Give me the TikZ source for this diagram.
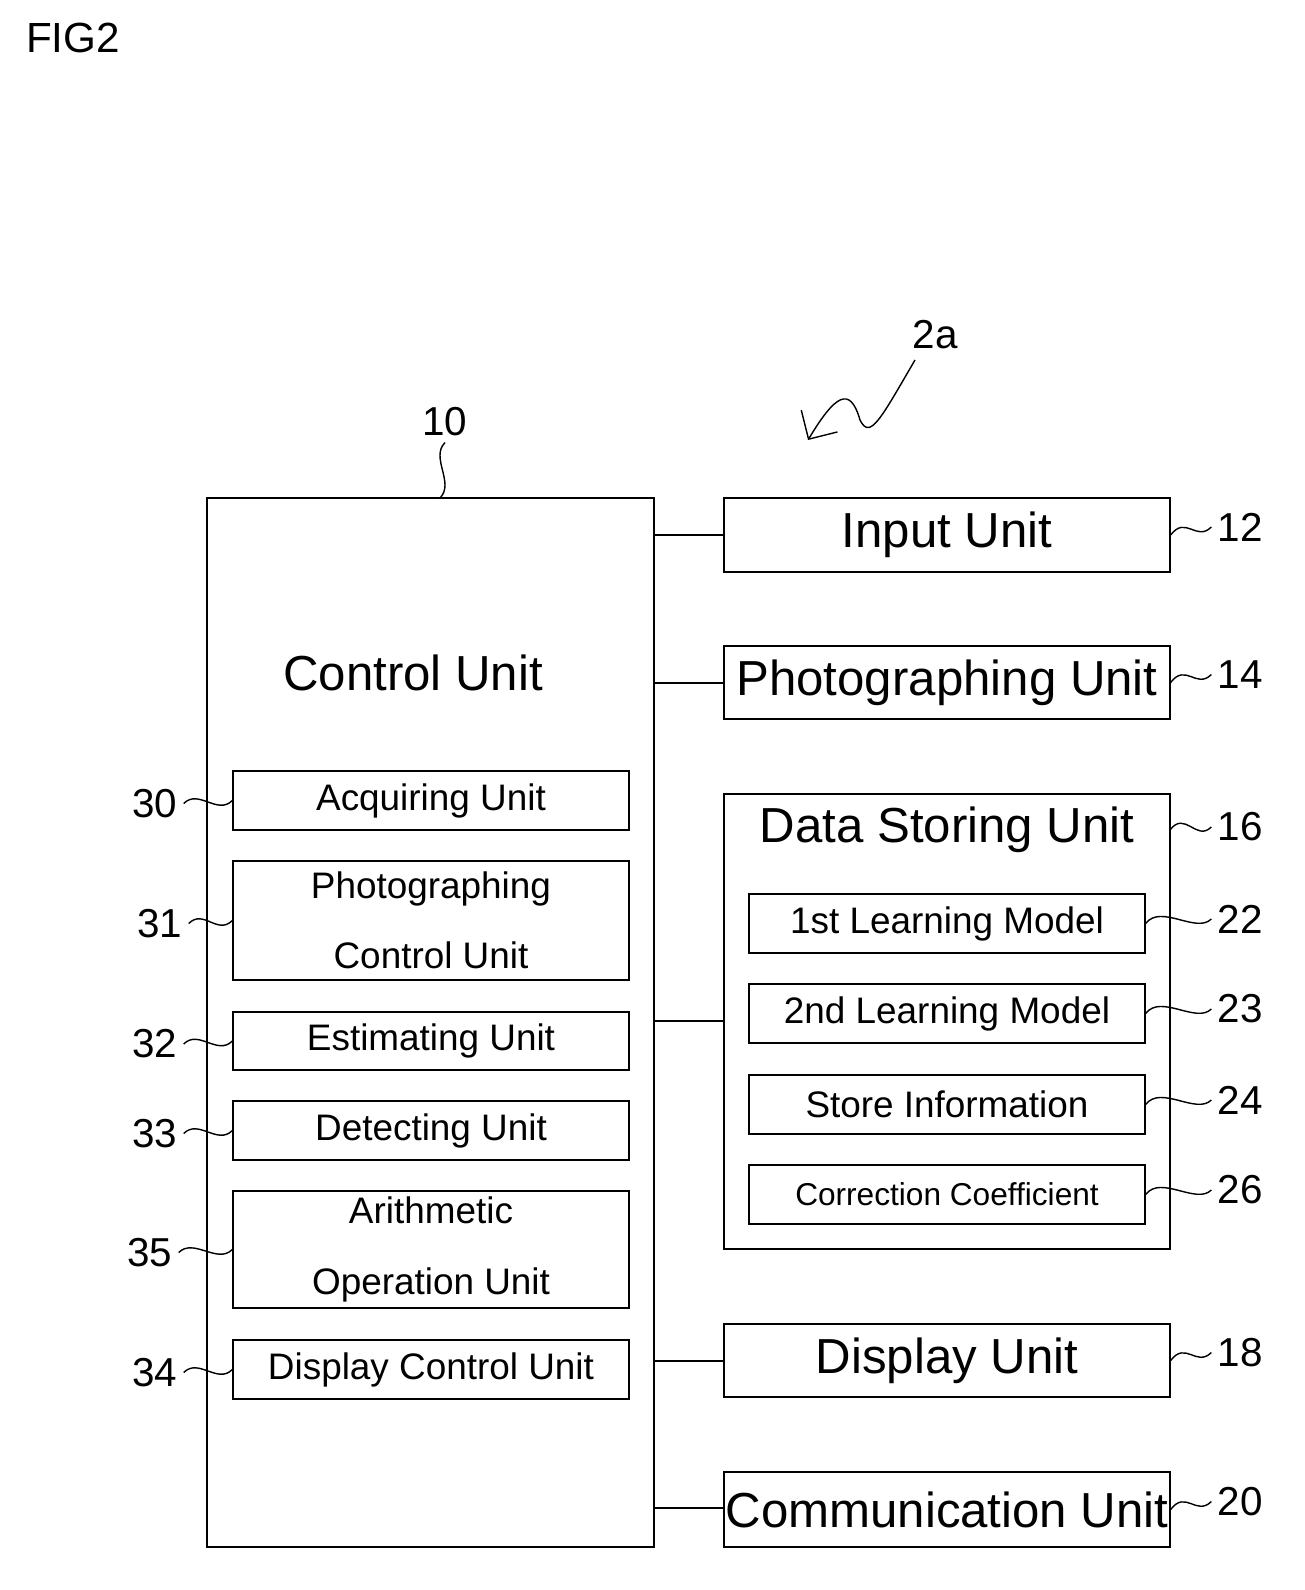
\documentclass[tikz,border=0pt]{standalone}
\usepackage{fontspec}
\setmainfont{Liberation Sans}
\usetikzlibrary{arrows.meta}
\begin{document}
\begin{tikzpicture}[x=0.02cm,y=-0.02cm,
  big/.style={font=\fontsize{28}{34}\selectfont},
  mid/.style={font=\fontsize{21}{40}\selectfont},
  num/.style={font=\fontsize{23}{28}\selectfont},
  sq/.style={line width=0.8pt}]
\useasboundingbox (0,0) rectangle (1305,1590);
\node[font=\fontsize{24}{28}\selectfont] (fig) at (73,38) {FIG2};
% control unit
\node[draw,line width=0.8pt,minimum width=8.94cm,minimum height=20.98cm,inner sep=0pt] (cu) at (430.5,1022.5) {};
\coordinate (cuTop) at (440,498);
\node[big] (cut) at (413,673) {Control Unit};
\node[num] (n10) at (445,422) {10};
\draw[sq] (n10.south) .. controls +(-15,15) and +(15,-15) .. (cuTop);
% sub boxes
\foreach \n/\ya/\yb/\t/\lab/\lx in {a/771/830/{Acquiring Unit}/30/155,
  b/861/980/{Photographing\\Control Unit}/31/160,
  c/1012/1070/{Estimating Unit}/32/155,
  d/1101/1160/{Detecting Unit}/33/155,
  e/1191/1308/{Arithmetic\\Operation Unit}/35/150,
  f/1340/1399/{Display Control Unit}/34/155}{
  \node[draw,line width=0.8pt,minimum width=7.92cm,minimum height={(\yb-\ya)*0.02cm},mid,align=center,inner sep=0pt] (\n) at (431,{(\ya+\yb)/2}) {\t};
  \node[num] (l\n) at (\lx,{(\ya+\yb)/2+3}) {\lab};
  \draw[sq] (l\n.east) .. controls +(15,-15) and +(-15,15) .. (\n.west);
}
% right boxes
\foreach \n/\ya/\yb/\t/\lab in {inp/498/572/{Input Unit}/12,
  pho/646/719/{Photographing Unit}/14,
  dis/1324/1397/{Display Unit}/18,
  com/1472/1547/{Communication Unit}/20}{
  \node[draw,line width=0.8pt,minimum width=8.92cm,minimum height={(\yb-\ya)*0.02cm},big,inner sep=0pt] (\n) at (947,{(\ya+\yb)/2}) {\t};
  \node[num] (l\n) at (1240,{(\ya+\yb)/2-8}) {\lab};
  \draw[sq] (\n.east) .. controls +(15,-20) and +(-15,15) .. (l\n.west);
}
% data storing
\node[draw,line width=0.8pt,minimum width=8.92cm,minimum height=9.1cm,inner sep=0pt] (ds) at (947,1021.5) {};
\node[big] (dst) at (947,830) {Data Storing Unit};
\node[num] (l16) at (1240,827) {16};
\coordinate (dsc) at (1170,830);
\draw[sq] (dsc) .. controls +(15,-20) and +(-15,15) .. (l16.west);
\foreach \n/\ya/\t/\lab in {m1/894/{1st Learning Model}/22, m2/984/{2nd Learning Model}/23,
  m3/1075/{Store Information}/24, m4/1165/{\fontsize{18}{20}\selectfont Correction Coefficient}/26}{
  \node[draw,line width=0.8pt,minimum width=7.92cm,minimum height=1.18cm,mid,inner sep=0pt] (\n) at (947,\ya+29.5) {\t};
  \node[num] (l\n) at (1240,\ya+25) {\lab};
  \draw[sq] (\n.east) .. controls +(15,-20) and +(-15,15) .. (l\n.west);
}
% connectors
\foreach \n/\y in {inp/535,pho/683,ds/1021,dis/1361,com/1508}{
  \draw[line width=0.8pt] (cu.east |- 0,\y) -- (\n.west |- 0,\y);
}
% 2a
\node[num] (n2a) at (935,335) {2a};
\coordinate (arr) at (808,440);
\draw[sq,-{Straight Barb[length=12pt]}] (915,360) .. controls (880,420) and (870,440) .. (860,420) .. controls (850,385) and (835,395) .. (arr);
\end{tikzpicture}
\end{document}
